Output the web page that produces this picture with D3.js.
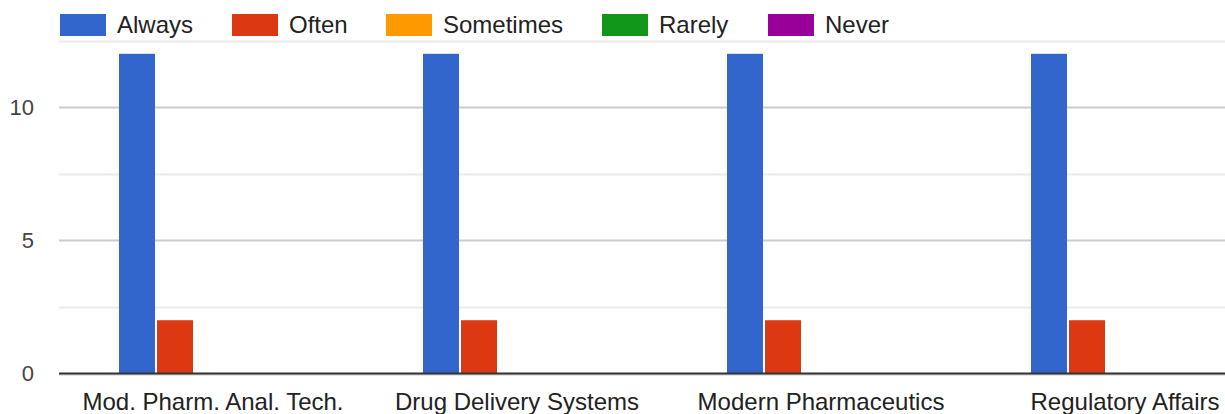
<!DOCTYPE html>
<html><head><meta charset="utf-8">
<script src="https://cdn.jsdelivr.net/npm/d3@7"></script>
<style>
html,body{margin:0;padding:0;background:#fff;overflow:hidden}
text{font-family:Arial,"Liberation Sans",sans-serif}
</style></head>
<body>
<svg id="c" width="1225" height="414"></svg>
<script>
const categories = ["Mod. Pharm. Anal. Tech.", "Drug Delivery Systems", "Modern Pharmaceutics", "Regulatory Affairs"];
const seriesNames = ["Always", "Often", "Sometimes", "Rarely", "Never"];
const seriesColors = ["#3366cc", "#dc3912", "#ff9900", "#109618", "#990099"];
const always = [12, 12, 12, 12];
const often = [2, 2, 2, 2];
const sometimes = [0, 0, 0, 0];
const rarely = [0, 0, 0, 0];
const never = [0, 0, 0, 0];
const yTicks = [0, 5, 10];
const yGrid = [0, 2.5, 5, 7.5, 10, 12.5];

const seriesValues = [always, often, sometimes, rarely, never];
const svg = d3.select("#c");

const y = d3.scaleLinear().domain([0, 12.5]).range([373.5, 40.5]);
const x0 = d3.scaleBand().domain(categories).range([61, 61 + 4 * 304]);
const x1 = d3.scaleBand().domain(seriesNames).range([58, 248]);

// grid lines
svg.append("g").selectAll("line").data(yGrid).join("line")
  .attr("x1", 59).attr("x2", 1225)
  .attr("y1", d => Math.round(y(d)) + 0.5).attr("y2", d => Math.round(y(d)) + 0.5)
  .attr("stroke", d => (d % 5 === 0) ? "#cccccc" : "#ebebeb")
  .attr("stroke-width", 2);

// y labels
svg.append("g").selectAll("text").data(yTicks).join("text")
  .attr("x", 34).attr("y", d => y(d)).attr("dy", "0.35em")
  .attr("text-anchor", "end").attr("font-size", 22).attr("fill", "#444")
  .text(d => d);

// bars
const groups = svg.append("g").selectAll("g").data(categories).join("g")
  .attr("transform", d => `translate(${x0(d)},0)`);
groups.selectAll("rect").data((c, ci) => seriesNames.map((s, si) => ({s, si, v: seriesValues[si][ci]})))
  .join("rect")
  .attr("x", d => x1(d.s))
  .attr("width", x1.bandwidth() - 2)
  .attr("y", d => y(d.v))
  .attr("height", d => y(0) - y(d.v))
  .attr("fill", d => seriesColors[d.si]);

// baseline
svg.append("line").attr("x1", 59).attr("x2", 1225)
  .attr("y1", y(0)).attr("y2", y(0)).attr("stroke", "#333").attr("stroke-width", 2);

// category labels
svg.append("g").selectAll("text").data(categories).join("text")
  .attr("x", d => x0(d) + x0.bandwidth() / 2).attr("y", 410)
  .attr("text-anchor", "middle").attr("font-size", 24).attr("fill", "#222")
  .text(d => d);

// legend
const legendX = [60, 232, 386, 602, 768];
const lg = svg.append("g").selectAll("g").data(seriesNames).join("g")
  .attr("transform", (d, i) => `translate(${legendX[i]},0)`);
lg.append("rect").attr("x", 0).attr("y", 14).attr("width", 46).attr("height", 22)
  .attr("fill", (d, i) => seriesColors[i]);
lg.append("text").attr("x", 57).attr("y", 33).attr("font-size", 24).attr("fill", "#222")
  .text(d => d);
</script>
</body></html>
